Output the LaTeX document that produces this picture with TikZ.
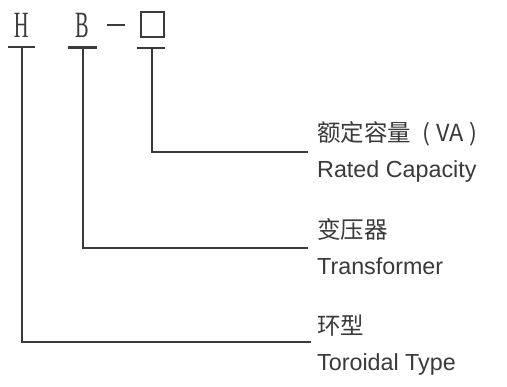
\documentclass[tikz,border=0pt]{standalone}
\usepackage{fontspec}
\setmainfont{Liberation Sans}
\newfontfamily\serifletters{Liberation Serif}
\newfontfamily\cjk{Noto Sans CJK SC}
\definecolor{ink}{HTML}{3A3A3A}
\tikzset{
  letter/.style={inner sep=0pt, text=ink, font=\serifletters\fontsize{37}{40}\selectfont},
  zh/.style={inner sep=0pt, anchor=west, text=ink, font=\cjk\fontsize{23.5}{26}\selectfont},
  en/.style={inner sep=0pt, anchor=west, text=ink, font=\fontsize{23.3}{26}\selectfont},
  conn/.style={draw=ink, line width=2pt},
  bar/.style={draw=ink, line width=2.2pt},
  sqbox/.style={draw=ink, line width=1.6pt, minimum width=23pt, minimum height=25.5pt, inner sep=0pt}
}
\begin{document}
\begin{tikzpicture}[x=1pt,y=-1pt]
\useasboundingbox[fill=white] (0,0) rectangle (507,387);
% code letters
\node[letter] (H) at (21.2,25.5) {\scalebox{0.55}[1]{H}};
\node[letter] (B) at (82,25.5) {\scalebox{0.55}[1]{B}};
\node[inner sep=0pt, text=ink] (dash) at (116,25) {\rule{18pt}{2.6pt}};
\node[sqbox] (sq) at (152.5,24.5) {};
% tick points
\coordinate (hb) at (21.8,47);
\coordinate (bb) at (82.6,47.5);
\coordinate (sb) at (151.8,48);
\draw[bar] ([xshift=-13.8pt]hb) -- ([xshift=13.2pt]hb);
\draw[bar] ([xshift=-14.6pt]bb) -- ([xshift=14.4pt]bb);
\draw[bar] ([xshift=-15pt]sb) -- ([xshift=13.2pt]sb);
% labels
\node[zh] (capzh) at (317,134) {额定容量\hspace{11pt}(\hspace{6pt}VA\hspace{6pt})};
\node[en] (capen) at (317,171) {Rated Capacity};
\node[zh] (trzh) at (317,229) {变压器};
\node[en] (tren) at (317,266) {Transformer};
\node[zh] (tozh) at (317,326) {环型};
\node[en] (toen) at (317,364) {Toroidal Type};
% connector ends
\coordinate (capend) at (308,152.5);
\coordinate (trend) at (308,248.5);
\coordinate (toend) at (311,342.5);
\draw[conn] (sb) |- (capend);
\draw[conn] (bb) |- (trend);
\draw[conn] (hb) |- (toend);
\end{tikzpicture}
\end{document}
